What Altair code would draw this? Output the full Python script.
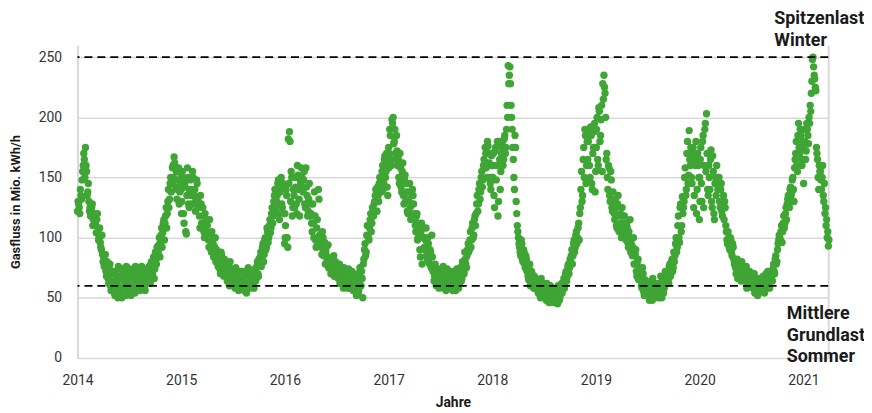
import altair as alt
import pandas as pd

# Daily gas flow (Mio. kWh/h), every ~2 days:
# list "a" holds days 0, 4, 8, ... of each year, list "b" days 2, 6, 10, ...
years = [2014, 2015, 2016, 2017, 2018, 2019, 2020, 2021]

y2014a = [122, 128, 120, 135, 148, 160, 165, 175,
          155, 138, 130, 125, 118, 128, 115,
          118, 110, 115, 105, 100, 96, 90, 86,
          84, 78, 72, 80, 66, 74, 60, 70,
          58, 72, 52, 66, 60, 76, 55, 68,
          50, 72, 62, 56, 76, 60, 64,
          74, 52, 70, 58, 66, 76, 62, 60,
          72, 56, 68, 64, 74, 58, 70, 62,
          66, 76, 62, 80, 70, 84, 74,
          82, 92, 88, 100, 96, 108, 104, 115,
          112, 125, 120, 140, 132, 150, 145,
          160, 167, 148, 155, 140, 158, 138, 150]
y2014b = [130, 125, 140, 132, 155, 170, 150, 160,
          135, 145, 122, 118, 125, 110, 120,
          112, 104, 120, 98, 108, 92, 102, 80,
          76, 86, 68, 74, 62, 78, 56, 72,
          64, 54, 70, 62, 50, 74, 58, 66,
          74, 56, 66, 52, 70, 64, 58,
          68, 56, 72, 60, 54, 70, 66, 58,
          66, 62, 76, 60, 70, 56, 66, 74,
          70, 64, 78, 68, 74, 66, 88,
          78, 86, 94, 84, 102, 92, 112, 98,
          118, 108, 130, 125, 145, 138, 158,
          150, 162, 142, 132, 155, 128, 146, 120]

y2015a = [140, 155, 120, 145, 105, 135, 150, 125,
          148, 135, 155, 128, 140, 132, 145,
          130, 118, 135, 112, 125, 105, 120, 115,
          110, 98, 115, 92, 105, 95, 88, 100,
          90, 80, 85, 74, 88, 78, 72, 82,
          78, 68, 72, 62, 80, 66, 70,
          70, 62, 75, 60, 68, 58, 72, 64,
          66, 58, 72, 56, 62, 75, 60, 64,
          62, 70, 58, 74, 66, 80, 68,
          78, 88, 82, 95, 86, 100, 92, 105,
          100, 115, 108, 125, 118, 135, 122,
          130, 145, 120, 138, 150, 125, 142, 95]
y2015b = [130, 150, 112, 142, 103, 158, 128, 138,
          140, 128, 150, 135, 122, 148, 130,
          125, 108, 128, 110, 118, 100, 112, 105,
          104, 92, 100, 88, 96, 84, 92, 80,
          84, 76, 80, 70, 86, 74, 68, 78,
          72, 64, 76, 60, 68, 62, 74,
          66, 58, 70, 62, 56, 68, 60, 72,
          62, 56, 68, 54, 60, 70, 58, 62,
          66, 60, 72, 64, 76, 70, 82,
          84, 76, 92, 80, 98, 90, 108, 96,
          110, 104, 120, 112, 130, 140, 126,
          135, 148, 115, 140, 128, 145, 120, 100]

y2016a = [120, 140, 100, 182, 188, 130, 150, 125,
          135, 150, 128, 160, 140, 118, 145,
          150, 138, 155, 125, 142, 118, 132, 128,
          120, 105, 112, 138, 98, 108, 95, 132,
          100, 92, 105, 85, 96, 88, 80, 94,
          82, 74, 78, 70, 85, 68, 76,
          72, 66, 78, 62, 70, 64, 75, 60,
          68, 60, 74, 58, 66, 72, 56, 64,
          62, 52, 70, 56, 75, 60, 66,
          78, 90, 85, 102, 110, 98, 115, 105,
          125, 118, 130, 140, 122, 135, 145,
          150, 138, 160, 145, 168, 155, 142, 162]
y2016b = [110, 135, 92, 145, 180, 155, 118, 140,
          125, 142, 120, 152, 132, 148, 158,
          140, 148, 128, 158, 135, 122, 145, 118,
          112, 128, 100, 118, 92, 115, 140, 102,
          96, 86, 100, 90, 78, 92, 84, 75,
          78, 70, 82, 72, 68, 80, 74,
          68, 74, 62, 70, 66, 58, 72, 64,
          64, 58, 70, 62, 72, 60, 66, 58,
          58, 64, 54, 68, 60, 72, 50,
          82, 95, 88, 110, 100, 108, 120, 112,
          118, 128, 135, 122, 142, 130, 150,
          145, 155, 140, 165, 150, 170, 135, 158]

y2017a = [175, 190, 165, 198, 200, 180, 170, 185,
          160, 150, 170, 142, 155, 135, 148,
          130, 145, 120, 138, 125, 118, 140, 128,
          115, 105, 120, 100, 110, 84, 112, 108,
          100, 90, 108, 82, 95, 78, 88, 102,
          72, 64, 78, 60, 68, 74, 62,
          70, 62, 76, 58, 66, 72, 60, 68,
          64, 58, 72, 60, 68, 56, 74, 62,
          68, 75, 64, 80, 72, 88, 78,
          85, 95, 90, 105, 98, 112, 102, 118,
          120, 135, 128, 145, 138, 155, 148,
          165, 175, 158, 180, 150, 170, 140, 160]
y2017b = [170, 185, 160, 195, 178, 190, 165, 172,
          165, 145, 158, 138, 162, 128, 152,
          138, 122, 132, 145, 115, 128, 135, 120,
          110, 118, 98, 112, 90, 105, 78, 100,
          92, 98, 85, 100, 80, 90, 75, 84,
          76, 68, 72, 62, 66, 58, 70,
          64, 72, 60, 68, 56, 74, 62, 66,
          60, 66, 56, 70, 58, 64, 62, 58,
          62, 70, 66, 76, 70, 82, 75,
          90, 88, 98, 92, 108, 100, 115, 110,
          128, 122, 140, 132, 150, 142, 160,
          158, 170, 150, 176, 162, 145, 168, 150]

y2018a = [150, 170, 125, 175, 160, 118, 180, 140,
          170, 180, 165, 185, 175, 210, 243,
          235, 228, 200, 175, 150, 185, 130, 110,
          100, 92, 85, 95, 80, 88, 75, 82,
          72, 65, 78, 62, 70, 60, 68, 58,
          64, 56, 60, 52, 66, 58, 62,
          58, 50, 62, 54, 46, 60, 52, 56,
          50, 46, 56, 52, 60, 48, 54, 62,
          58, 66, 62, 72, 68, 78, 75,
          80, 90, 85, 98, 92, 105, 100, 112,
          120, 140, 130, 165, 150, 185, 160,
          165, 190, 150, 185, 140, 175, 195, 155]
y2018b = [160, 135, 172, 148, 180, 130, 165, 155,
          175, 160, 182, 170, 190, 200, 228,
          242, 210, 190, 165, 140, 175, 120, 105,
          95, 88, 98, 82, 90, 78, 85, 72,
          68, 74, 60, 72, 64, 58, 66, 60,
          60, 54, 64, 50, 58, 55, 60,
          54, 48, 58, 52, 60, 46, 55, 50,
          52, 48, 58, 45, 56, 50, 60, 54,
          62, 58, 70, 64, 76, 70, 82,
          85, 78, 95, 88, 102, 95, 108, 98,
          125, 155, 135, 175, 190, 145, 180,
          180, 160, 192, 145, 170, 188, 138, 175]

y2019a = [175, 200, 160, 205, 185, 210, 228, 235,
          220, 165, 150, 160, 135, 155, 125,
          138, 120, 132, 110, 128, 106, 118, 112,
          125, 110, 118, 100, 112, 96, 105, 115,
          95, 85, 100, 78, 90, 68, 82, 72,
          70, 60, 75, 55, 65, 58, 62,
          55, 48, 62, 52, 66, 50, 58, 60,
          52, 62, 56, 68, 50, 64, 58, 72,
          66, 72, 62, 78, 70, 82, 75,
          80, 95, 88, 110, 100, 125, 105, 134,
          125, 150, 135, 170, 145, 189, 160,
          150, 170, 125, 165, 180, 140, 160, 115]
y2019b = [190, 165, 208, 180, 198, 155, 215, 225,
          200, 170, 140, 158, 130, 148, 122,
          130, 115, 125, 108, 135, 105, 120, 100,
          118, 105, 112, 98, 108, 92, 100, 88,
          88, 92, 78, 86, 72, 80, 65, 75,
          66, 58, 70, 52, 62, 56, 60,
          58, 52, 64, 48, 56, 62, 50, 54,
          56, 50, 62, 58, 66, 54, 60, 68,
          70, 64, 76, 68, 80, 72, 88,
          85, 100, 92, 118, 96, 128, 110, 120,
          130, 158, 140, 180, 152, 165, 175,
          145, 175, 135, 160, 120, 170, 150, 130]

y2020a = [150, 175, 130, 185, 160, 195, 203, 140,
          160, 140, 173, 125, 155, 115, 150,
          160, 140, 150, 125, 145, 118, 135, 130,
          110, 98, 105, 92, 100, 88, 95, 82,
          78, 70, 82, 68, 75, 66, 80, 72,
          70, 64, 76, 60, 68, 72, 62,
          64, 58, 70, 55, 62, 52, 66, 60,
          60, 56, 68, 54, 64, 58, 72, 62,
          66, 72, 64, 78, 70, 85, 80,
          95, 102, 98, 110, 105, 118, 112, 125,
          128, 135, 125, 142, 138, 150, 130,
          165, 180, 155, 195, 170, 185, 160, 175]
y2020b = [165, 145, 180, 125, 190, 155, 170, 135,
          150, 165, 130, 168, 120, 145, 135,
          145, 150, 130, 140, 122, 128, 115, 125,
          105, 95, 100, 90, 98, 85, 92, 78,
          75, 80, 66, 78, 72, 64, 76, 70,
          66, 70, 58, 72, 64, 60, 68,
          60, 66, 54, 62, 58, 64, 56, 62,
          64, 58, 62, 56, 70, 60, 66, 58,
          70, 68, 74, 72, 82, 78, 90,
          98, 100, 105, 96, 112, 108, 120, 115,
          132, 128, 140, 135, 148, 140, 158,
          170, 160, 185, 175, 190, 165, 180, 145]

y2021a = [175, 190, 165, 195, 185, 200, 210, 220,
          248, 242, 232, 222, 170, 150, 160,
          155, 140, 160, 130, 120, 110, 100, 93]
y2021b = [165, 180, 172, 190, 178, 195, 205, 230,
          250, 235, 225, 175, 165, 140, 155,
          148, 150, 135, 145, 125, 115, 105, 98]

series_a = [y2014a, y2015a, y2016a, y2017a, y2018a, y2019a, y2020a, y2021a]
series_b = [y2014b, y2015b, y2016b, y2017b, y2018b, y2019b, y2020b, y2021b]
step_days = 4

ref_values = [250, 60]
ref_names = ["Spitzenlast Winter", "Mittlere Grundlast Sommer"]

ann_labels = ["Spitzenlast", "Winter", "Mittlere", "Grundlast", "Sommer"]
ann_x = [2020.72, 2020.72, 2020.84, 2020.84, 2020.84]
ann_y = [281.5, 263.5, 36.5, 18.5, 0.5]

y_ticks = [0, 50, 100, 150, 200, 250]
x_ticks = years

rows = []
for offset, series in ((0, series_a), (2, series_b)):
    for yr, vals in zip(years, series):
        for i, v in enumerate(vals):
            rows.append({"t": yr + (offset + i * step_days) / 365.0, "v": v})
df = pd.DataFrame(rows).sort_values("t")
df_ref = pd.DataFrame({"v": ref_values, "name": ref_names})
df_ann = pd.DataFrame({"x": ann_x, "y": ann_y, "label": ann_labels})

FONT = "Roboto"
GREEN = "#3fa535"
GRID = "#d9d9d9"

xs = alt.Scale(domain=[2014, 2021.24], nice=False, zero=False)
ys = alt.Scale(domain=[0, 260], nice=False)

points = alt.Chart(df).mark_circle(size=55, color=GREEN, opacity=1).encode(
    x=alt.X("t:Q", scale=xs,
            axis=alt.Axis(values=x_ticks, format="d", title="Jahre", domain=False,
                          ticks=False, tickSize=0, grid=False, labelPadding=16,
                          labelFlush=False, titlePadding=8, labelFontSize=14,
                          titleFontSize=14, titleFontWeight="bold",
                          labelColor="#333333", titleColor="#1a1a1a",
                          labelFont=FONT, titleFont=FONT)),
    y=alt.Y("v:Q", scale=ys,
            axis=alt.Axis(values=y_ticks, title="Gasfluss in Mio. kWh/h", orient="left",
                          domain=True, domainColor=GRID, domainWidth=2,
                          ticks=False, tickSize=0, grid=True, gridColor=GRID,
                          gridWidth=1.5, labelPadding=16, titlePadding=16,
                          labelFontSize=14, titleFontSize=13, titleFontWeight="bold",
                          labelColor="#333333", titleColor="#1a1a1a",
                          labelFont=FONT, titleFont=FONT)),
)

rules = alt.Chart(df_ref).mark_rule(color="black", strokeDash=[8, 5], strokeWidth=1.8).encode(
    y=alt.Y("v:Q", scale=ys,
            axis=alt.Axis(orient="right", labels=False, ticks=False, grid=False,
                          title=None, domain=True, domainColor=GRID, domainWidth=2)),
)

texts = alt.Chart(df_ann).mark_text(align="left", baseline="middle", font=FONT,
                                    fontSize=18, fontWeight="bold", color="#1a1a1a").encode(
    x=alt.X("x:Q", scale=xs),
    y=alt.Y("y:Q", scale=ys, axis=None),
    text="label:N",
)

chart = alt.layer(points, rules, texts).resolve_axis(y="independent").properties(
    width=756, height=315,
    padding={"left": 70, "top": 36, "right": 36, "bottom": 52},
    autosize=alt.AutoSizeParams(type="none"),
).configure_view(stroke=None)

chart.save("out.html", embed_options={"renderer": "svg", "actions": False})
